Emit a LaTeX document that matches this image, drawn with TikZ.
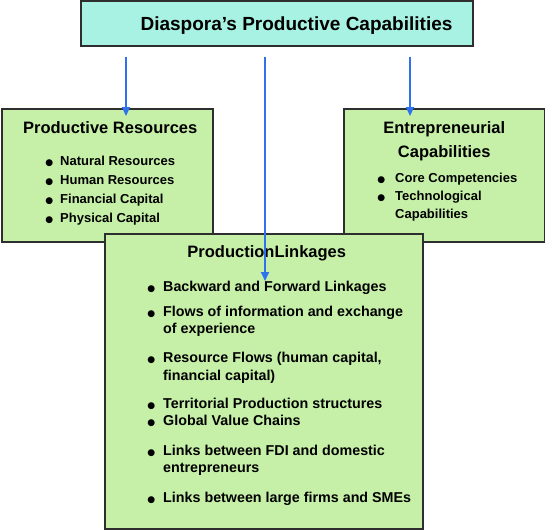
\documentclass[tikz,border=0pt]{standalone}
\usepackage{fontspec}
\setmainfont{Liberation Sans}
\newfontfamily\capsymbols{DejaVu Sans}
\usepackage{xcolor}
\usetikzlibrary{positioning,arrows.meta}
\definecolor{capcyan}{HTML}{A8F2E3}
\definecolor{capgreen}{HTML}{C6F0A8}
\definecolor{capline}{HTML}{2E2E2E}
\definecolor{capblue}{HTML}{2F72EE}
\newcommand{\capbullet}{{\capsymbols\fontsize{9}{9}\selectfont ●}}
\tikzset{
  cap box/.style={
    rectangle,
    anchor=north west,
    inner sep=0pt,
    line width=1.5pt,
    draw=capline,
    fill=capgreen,
  },
  cap title/.style={
    anchor=base,
    inner sep=0pt,
    font=\fontsize{19}{23}\selectfont\bfseries,
  },
  cap head/.style={
    anchor=base,
    inner sep=0pt,
    font=\fontsize{16.5}{24}\selectfont\bfseries,
  },
  cap list/.style={
    anchor=base west,
    inner sep=0pt,
    font=\bfseries,
  },
  cap arrow/.style={-{Triangle[length=9pt,width=8pt]}, line width=1.8pt, draw=capblue},
}

\begin{document}
\begin{tikzpicture}[x=1pt,y=-1pt]
  \useasboundingbox (0,0) rectangle (545,530);

  \node[cap box,fill=capcyan,minimum width=392pt,minimum height=45pt] (diaspora) at (80,0) {};
  \node[cap title] (diasporaTitle) at ([shift={(216.5,30)}]diaspora.north west) {Diaspora’s Productive Capabilities};

  \node[cap box,minimum width=211pt,minimum height=133pt] (resources) at (1,108) {};
  \node[cap head] (resourcesHead) at ([shift={(3,25)}]resources.north) {Productive Resources};
  \node[cap list] (resourcesList) at ([shift={(44.1,57)}]resources.north west) {%
    \fontsize{13}{19}\selectfont
    \begin{tabular}[t]{@{}p{14.9pt}@{}l@{}}
      \capbullet & Natural Resources\\
      \capbullet & Human Resources\\
      \capbullet & Financial Capital\\
      \capbullet & Physical Capital
    \end{tabular}};

  \node[cap box,minimum width=201pt,minimum height=133pt] (entrepreneurial) at (343,108) {};
  \node[cap head] (entrepreneurialHead) at ([shift={(0,25)}]entrepreneurial.north) {%
    \begin{tabular}[t]{@{}c@{}}Entrepreneurial\\ Capabilities\end{tabular}};
  \node[cap list] (entrepreneurialList) at ([shift={(34.1,74)}]entrepreneurial.north west) {%
    \fontsize{13}{18}\selectfont
    \begin{tabular}[t]{@{}p{17.9pt}@{}l@{}}
      \capbullet & Core Competencies\\
      \capbullet & Technological\\
                 & Capabilities
    \end{tabular}};

  \node[cap box,minimum width=318pt,minimum height=295pt] (linkages) at (104,233) {};
  \node[cap head] (linkagesHead) at ([shift={(3,24)}]linkages.north) {ProductionLinkages};
  \node[cap list] (linkagesList) at ([shift={(43.1,58)}]linkages.north west) {%
    \fontsize{14.3}{17.5}\selectfont
    \begin{tabular}[t]{@{}p{15.9pt}@{}l@{}}
      \capbullet & Backward and Forward Linkages\\[7.5pt]
      \capbullet & Flows of information and exchange\\
                 & of experience\\[11.5pt]
      \capbullet & Resource Flows (human capital,\\
                 & financial capital)\\[10.5pt]
      \capbullet & Territorial Production structures\\
      \capbullet & Global Value Chains\\[12pt]
      \capbullet & Links between FDI and domestic\\
                 & entrepreneurs\\[12.5pt]
      \capbullet & Links between large firms and SMEs
    \end{tabular}};

  % arrows from the top box
  \draw[cap arrow] ([shift={(46,10)}]diaspora.south west) -- ([shift={(125,8)}]resources.north west);
  \draw[cap arrow] ([shift={(185,10)}]diaspora.south west) -- ([shift={(161,48)}]linkages.north west);
  \draw[cap arrow] ([shift={(330,10)}]diaspora.south west) -- ([shift={(67,8)}]entrepreneurial.north west);
\end{tikzpicture}
\end{document}
